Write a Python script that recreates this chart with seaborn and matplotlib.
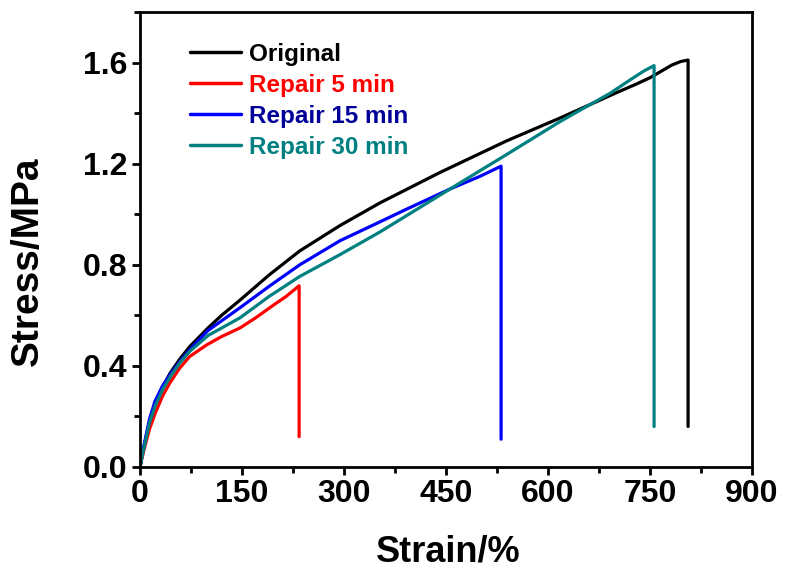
import numpy as np
import pandas as pd
import matplotlib
matplotlib.use("Agg")
import matplotlib.pyplot as plt
import seaborn as sns
from matplotlib.ticker import MultipleLocator

# strain (%) / stress (MPa)
strain_original = [0, 3, 7, 14, 22, 33, 44, 58, 73, 100, 120, 147, 190, 235, 294, 353, 441,
                   539, 618, 662, 700, 730, 750, 768, 782, 795, 806, 806]
stress_original = [0, 0.045, 0.095, 0.18, 0.25, 0.315, 0.37, 0.425, 0.476, 0.55, 0.60, 0.66,
                   0.76, 0.855, 0.955, 1.045, 1.165, 1.29, 1.381, 1.434, 1.48, 1.515, 1.54,
                   1.568, 1.59, 1.604, 1.610, 0.16]

strain_5min = [0, 3, 7, 14, 22, 33, 44, 58, 73, 98, 120, 147, 170, 196, 215, 234, 234]
stress_5min = [0, 0.035, 0.08, 0.15, 0.21, 0.28, 0.333, 0.39, 0.437, 0.483, 0.516, 0.55,
               0.59, 0.64, 0.675, 0.717, 0.12]

strain_15min = [0, 3, 7, 14, 22, 33, 44, 58, 73, 100, 147, 190, 235, 294, 353, 392, 456,
                500, 531, 531]
stress_15min = [0, 0.045, 0.10, 0.19, 0.26, 0.32, 0.365, 0.415, 0.463, 0.54, 0.63, 0.715,
                0.80, 0.895, 0.97, 1.02, 1.10, 1.15, 1.19, 0.11]

strain_30min = [0, 3, 7, 14, 22, 33, 44, 58, 73, 100, 147, 190, 235, 294, 353, 456, 539,
                618, 662, 691, 720, 740, 756, 756]
stress_30min = [0, 0.04, 0.09, 0.175, 0.24, 0.305, 0.355, 0.41, 0.457, 0.52, 0.59, 0.675,
                0.754, 0.84, 0.93, 1.10, 1.236, 1.367, 1.434, 1.478, 1.53, 1.565, 1.588,
                0.16]

labels = ["Original", "Repair 5 min", "Repair 15 min", "Repair 30 min"]
line_colors = ["#000000", "#ff0000", "#0000ff", "#008080"]
text_colors = ["#000000", "#ff0000", "#000099", "#008080"]

frames = []
for name, xs, ys in zip(labels,
                        [strain_original, strain_5min, strain_15min, strain_30min],
                        [stress_original, stress_5min, stress_15min, stress_30min]):
    frames.append(pd.DataFrame({"strain": xs, "stress": ys, "sample": name,
                                "order": np.arange(len(xs))}))
df = pd.concat(frames, ignore_index=True)

sns.set_style("ticks")
plt.rcParams["font.family"] = ["Liberation Sans", "DejaVu Sans"]
plt.rcParams["font.weight"] = "bold"
plt.rcParams["text.color"] = "black"
plt.rcParams["axes.labelcolor"] = "black"
plt.rcParams["xtick.color"] = "black"
plt.rcParams["ytick.color"] = "black"

fig = plt.figure(figsize=(7.87, 5.70), dpi=100)
ax = fig.add_axes([140 / 787, 1 - 467 / 570, 612 / 787, 455 / 570])

sns.lineplot(data=df, x="strain", y="stress", hue="sample", hue_order=labels,
             palette=line_colors, sort=False, estimator=None, units="sample",
             lw=2.3, ax=ax)

ax.set_xlim(0, 900)
ax.set_ylim(0, 1.8)
ax.xaxis.set_major_locator(MultipleLocator(150))
ax.xaxis.set_minor_locator(MultipleLocator(75))
ax.yaxis.set_minor_locator(MultipleLocator(0.2))
ax.set_yticks([0.0, 0.4, 0.8, 1.2, 1.6])
ax.set_yticklabels(["0.0", "0.4", "0.8", "1.2", "1.6"])

for s in ax.spines.values():
    s.set_visible(True)
    s.set_linewidth(2.0)
    s.set_color("black")

ax.tick_params(which="major", direction="out", length=6, width=2, labelsize=23, pad=3,
               colors="black")
ax.tick_params(which="minor", direction="out", length=4, width=2, colors="black")
ax.tick_params(top=False, right=False, which="both")
for t in ax.get_xticklabels() + ax.get_yticklabels():
    t.set_fontweight("bold")

ax.set_xlabel("Strain/%", fontsize=26, fontweight="bold")
ax.set_ylabel("Stress/MPa", fontsize=28, fontweight="bold")
ax.xaxis.set_label_coords(0.503, -0.148)
ax.yaxis.set_label_coords(-0.153, 0.453)

leg = ax.legend(loc="upper left", bbox_to_anchor=(0.082, 0.932), frameon=False,
                handlelength=2.1, handletextpad=0.3, labelspacing=0.33,
                borderpad=0, borderaxespad=0, prop={"weight": "bold", "size": 17.5})
for txt, c in zip(leg.get_texts(), text_colors):
    txt.set_color(c)
for h in leg.get_lines():
    h.set_linewidth(2.5)

fig.savefig("out.png", dpi=100)
